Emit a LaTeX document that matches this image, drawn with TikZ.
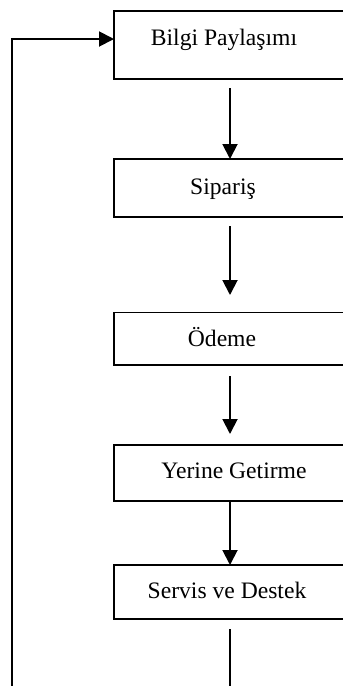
\documentclass[tikz,border=0pt]{standalone}
\usepackage{fontspec}
\setmainfont{Liberation Serif}
\usetikzlibrary{arrows.meta}
\begin{document}
\begin{tikzpicture}[x=1pt,y=-1pt,
  stage/.style={draw, line width=1.9pt, minimum width=232pt, inner sep=0pt,
                outer sep=0pt, anchor=north west},
  caption/.style={anchor=base, inner sep=0pt,
                  font=\fontsize{23.6pt}{28pt}\selectfont},
  flow/.style={line width=1.9pt, -{Triangle[length=15pt,width=15pt]}},
]
\useasboundingbox (0,0) rectangle (343,686);
\clip (0,0) rectangle (343,686);

% process stages (boxes run on past the right edge)
\node[stage, minimum height=68pt]   (b1) at (114,11)    {};
\node[stage, minimum height=58pt]   (b2) at (114,159)   {};
\node[stage, minimum height=52.5pt] (b3) at (114,312.5) {};
\node[stage, minimum height=56pt]   (b4) at (114,445)   {};
\node[stage, minimum height=54pt]   (b5) at (114,565)   {};

% stage titles
\node[caption] (t1) at (224,45)  {Bilgi Paylaşımı};
\node[caption] (t2) at (223,194) {Sipariş};
\node[caption] (t3) at (222,346) {Ödeme};
\node[caption] (t4) at (234,478) {Yerine Getirme};
\node[caption] (t5) at (227,598) {Servis ve Destek};

% downward flow between stages
\draw[flow, shorten <=9pt] (b1.south) -- (b2.north);
\draw[flow, shorten <=9pt, shorten >=17.5pt] (b2.south) -- (b3.north);
\draw[flow, shorten <=11pt, shorten >=11pt] (b3.south) -- (b4.north);
\draw[flow] (b4.south) -- (b5.north);

% feedback loop back to the first stage
\coordinate (down) at (230,700);
\coordinate (back) at (12,700);
\draw[flow, shorten <=10pt] (b5.south) -- (down) -- (back) |- ([yshift=6pt]b1.west);
\end{tikzpicture}
\end{document}
